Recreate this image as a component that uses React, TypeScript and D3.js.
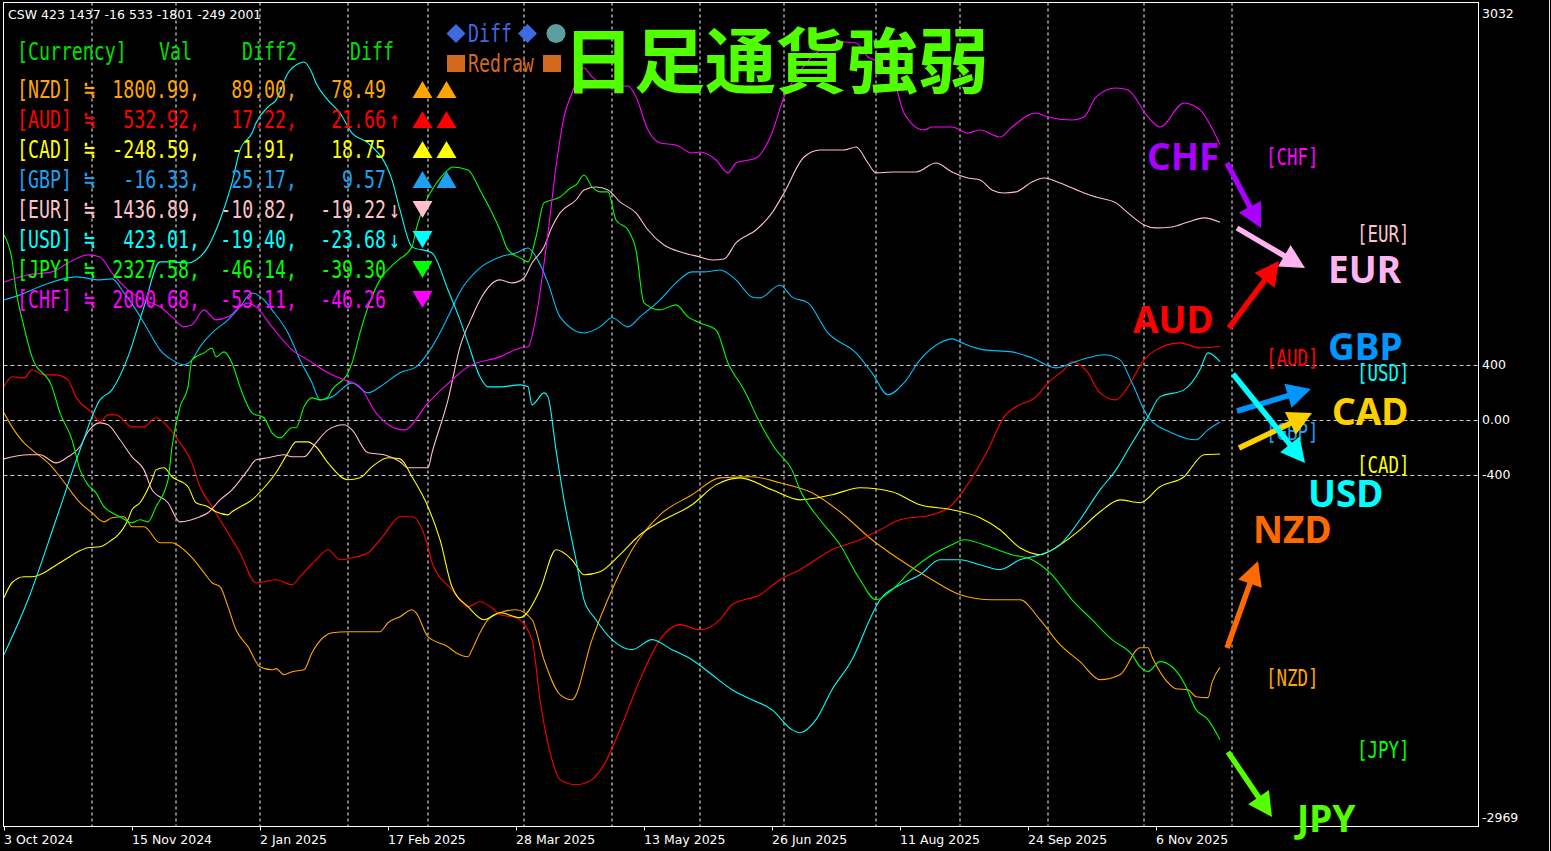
import React from 'react';
import * as d3 from 'd3';

type P = [number, number];

// ---------- DATA ----------
const currencies = ['NZD', 'AUD', 'CAD', 'GBP', 'EUR', 'USD', 'JPY', 'CHF'];
const lineColors = ['#FFA500', '#FF0000', '#FFFF00', '#00BFFF', '#FFC0CB', '#00FFFF', '#00FF00', '#FF00FF'];

// [bar index, strength value]
const nzdSeries: P[] = [[0,51],[2,-51],[5,-167],[7,-218],[12,-342],[14,-414],[17,-531],[19,-603],[22,-676],[25,-742],[27,-712],[30,-705],[32,-778],[35,-778],[39,-894],[42,-894],[44,-923],[47,-1003],[50,-1112],[52,-1185],[54,-1214],[56,-1359],[58,-1527],[61,-1650],[64,-1796],[67,-1818],[68,-1810],[70,-1854],[72,-1832],[75,-1818],[77,-1694],[80,-1578],[82,-1549],[86,-1541],[91,-1541],[94,-1541],[96,-1476],[99,-1432],[102,-1381],[103,-1403],[106,-1578],[107,-1599],[111,-1650],[113,-1694],[116,-1723],[117,-1672],[119,-1549],[121,-1454],[124,-1403],[128,-1381],[132,-1454],[135,-1745],[139,-1999],[142,-2036],[147,-1599],[152,-1236],[157,-945],[164,-691],[172,-545],[179,-422],[187,-414],[194,-458],[202,-531],[209,-669],[217,-872],[224,-1018],[232,-1163],[239,-1272],[247,-1309],[254,-1309],[259,-1454],[264,-1636],[269,-1759],[274,-1890],[279,-1854],[284,-1658],[286,-1658],[287,-1723],[291,-1912],[293,-1956],[296,-1963],[298,-2014],[301,-2021],[302,-1912],[304,-1800.99]];

const audSeries: P[] = [[0,240],[2,313],[5,305],[7,364],[10,327],[13,327],[16,291],[18,167],[22,51],[24,-15],[26,36],[28,36],[32,-51],[35,-51],[38,15],[41,-51],[44,-167],[47,-313],[49,-487],[52,-632],[56,-822],[59,-967],[63,-1185],[68,-1163],[72,-1200],[74,-1141],[78,-1018],[81,-945],[84,-1018],[87,-1003],[91,-967],[95,-836],[99,-705],[102,-705],[106,-923],[107,-1040],[112,-1236],[116,-1359],[119,-1323],[122,-1367],[124,-1418],[128,-1439],[132,-1599],[134,-2036],[137,-2472],[139,-2617],[143,-2654],[147,-2617],[150,-2508],[154,-2254],[159,-1890],[164,-1599],[169,-1490],[174,-1527],[179,-1454],[182,-1345],[189,-1272],[194,-1163],[199,-1090],[207,-945],[214,-872],[219,-800],[224,-727],[232,-691],[237,-618],[240,-509],[246,-218],[250,22],[253,95],[258,167],[261,269],[265,364],[267,422],[271,342],[274,196],[278,145],[281,240],[285,436],[288,509],[294,560],[299,523],[304,532.92]];

const cadSeries: P[] = [[0,-1294],[2,-1185],[5,-1141],[7,-1141],[10,-1112],[12,-1076],[14,-1040],[16,-1003],[18,-967],[21,-931],[24,-923],[27,-872],[28,-851],[31,-727],[32,-654],[34,-603],[37,-436],[38,-364],[40,-349],[42,-414],[46,-487],[48,-603],[51,-632],[53,-669],[56,-691],[57,-669],[60,-618],[62,-582],[65,-494],[68,-385],[71,-240],[73,-160],[76,-160],[78,-196],[81,-313],[86,-436],[89,-422],[92,-342],[96,-276],[99,-284],[102,-414],[106,-632],[109,-872],[112,-1214],[116,-1359],[120,-1454],[124,-1403],[129,-1439],[134,-1236],[138,-945],[142,-1018],[145,-1127],[149,-1105],[154,-981],[159,-836],[164,-742],[172,-618],[178,-473],[184,-422],[192,-509],[199,-582],[207,-545],[214,-494],[222,-523],[229,-618],[237,-654],[244,-712],[249,-800],[254,-931],[259,-981],[264,-909],[269,-800],[274,-669],[279,-582],[284,-603],[289,-487],[295,-414],[300,-254],[304,-248.59]];

const gbpSeries: P[] = [[0,872],[4,909],[10,981],[18,1040],[24,1018],[27,1025],[30,923],[33,800],[36,654],[39,509],[42,436],[45,400],[47,436],[49,531],[52,632],[56,727],[59,822],[62,923],[65,872],[67,800],[71,632],[74,436],[77,269],[79,145],[82,167],[87,269],[91,196],[94,240],[99,342],[103,385],[107,531],[111,749],[114,931],[119,1105],[124,1185],[128,1214],[131,1250],[133,1185],[136,996],[139,749],[145,632],[149,676],[152,742],[156,676],[159,749],[164,872],[168,996],[172,1076],[175,1076],[179,1090],[183,1018],[187,894],[189,887],[194,981],[197,894],[201,851],[206,632],[213,487],[217,342],[221,182],[225,269],[229,436],[234,560],[237,589],[239,567],[242,531],[245,509],[252,494],[257,451],[263,378],[267,414],[271,451],[275,473],[279,436],[282,269],[286,22],[292,-95],[298,-145],[301,-73],[304,-16.33]];

const eurSeries: P[] = [[0,-284],[6,-254],[9,-254],[13,-313],[16,-269],[19,-196],[21,-87],[24,-22],[26,-36],[29,-145],[32,-269],[35,-364],[37,-509],[41,-603],[44,-742],[49,-705],[51,-676],[54,-582],[57,-509],[61,-364],[63,-291],[66,-276],[70,-254],[72,-269],[75,-269],[78,-167],[81,-73],[85,-36],[87,-73],[91,-240],[95,-254],[99,-305],[101,-349],[106,-349],[107,-240],[111,145],[114,531],[117,749],[119,872],[124,1018],[127,996],[130,1032],[132,1141],[135,1258],[137,1403],[139,1505],[143,1599],[145,1672],[148,1694],[151,1672],[154,1585],[158,1505],[161,1381],[165,1272],[170,1214],[174,1185],[177,1163],[180,1170],[183,1287],[188,1381],[192,1505],[195,1650],[200,1912],[204,1963],[210,1963],[213,1985],[216,1868],[218,1796],[222,1803],[228,1803],[233,1868],[237,1803],[241,1759],[244,1745],[247,1672],[250,1650],[253,1658],[257,1730],[260,1759],[264,1723],[270,1650],[273,1621],[278,1578],[281,1505],[285,1418],[288,1396],[292,1403],[296,1439],[300,1469],[304,1436.89]];

const usdSeries: P[] = [[0,-1708],[6,-1309],[13,-727],[19,-218],[24,145],[27,218],[31,458],[35,822],[39,1149],[42,1149],[46,1141],[48,1163],[51,1258],[54,1454],[57,1723],[59,1963],[62,2086],[63,2159],[66,2276],[68,2326],[71,2523],[74,2595],[75,2603],[77,2523],[78,2450],[81,2326],[84,2232],[87,2086],[91,2014],[97,1745],[99,1527],[102,1258],[107,1214],[111,945],[114,727],[116,560],[119,313],[121,240],[124,240],[129,254],[131,240],[132,109],[135,196],[136,167],[138,-218],[140,-582],[143,-1018],[145,-1309],[148,-1454],[152,-1599],[157,-1672],[162,-1599],[167,-1672],[172,-1745],[177,-1854],[182,-1963],[187,-2036],[192,-2108],[197,-2254],[199,-2276],[203,-2181],[207,-1963],[212,-1745],[217,-1418],[219,-1309],[224,-1200],[229,-1127],[234,-1018],[239,-1018],[244,-1054],[249,-1090],[254,-1018],[259,-981],[264,-909],[269,-727],[274,-509],[278,-364],[281,-218],[286,22],[289,167],[295,218],[299,364],[301,487],[304,423.01]];

const jpySeries: P[] = [[0,1345],[2,1163],[3,945],[5,676],[7,458],[12,240],[14,51],[17,-145],[19,-364],[21,-473],[23,-531],[25,-632],[27,-676],[29,-705],[32,-749],[34,-727],[36,-742],[38,-632],[41,-436],[42,-196],[44,95],[46,240],[47,436],[50,487],[52,523],[53,458],[55,494],[57,414],[59,240],[62,51],[65,15],[67,-95],[69,-131],[72,-58],[73,-58],[75,95],[77,160],[79,145],[81,167],[82,218],[86,342],[87,414],[89,632],[91,822],[94,1018],[98,1149],[102,1258],[103,1381],[106,1621],[107,1672],[111,1818],[112,1839],[116,1818],[119,1672],[124,1381],[126,1236],[129,1178],[131,1149],[133,1330],[135,1578],[137,1599],[139,1621],[142,1694],[143,1708],[145,1781],[147,1694],[149,1658],[151,1658],[153,1454],[156,1381],[158,1236],[160,851],[164,800],[168,836],[171,749],[174,705],[178,654],[181,414],[185,218],[189,-22],[193,-218],[197,-364],[199,-509],[204,-727],[209,-909],[214,-1163],[218,-1309],[222,-1236],[227,-1090],[232,-981],[237,-909],[240,-872],[247,-931],[252,-981],[257,-1018],[262,-1127],[267,-1309],[272,-1454],[277,-1599],[282,-1708],[284,-1796],[286,-1832],[289,-1759],[292,-1796],[295,-1912],[298,-2108],[301,-2181],[304,-2327.58]];

const chfSeries: P[] = [[0,1003],[6,1054],[12,1076],[16,1141],[21,1200],[24,1185],[27,1069],[31,945],[35,872],[39,822],[42,749],[45,676],[47,691],[50,800],[53,727],[56,749],[59,822],[61,851],[63,822],[67,676],[72,509],[76,436],[81,342],[85,291],[89,240],[93,51],[100,-73],[106,124],[112,291],[116,385],[124,458],[129,523],[131,531],[133,749],[136,1359],[138,1839],[140,2203],[142,2377],[145,2559],[147,2494],[152,2421],[156,2428],[158,2348],[161,2108],[164,2014],[168,1999],[172,1941],[174,1948],[178,1890],[181,1796],[183,1868],[188,1905],[192,2086],[195,2348],[198,2494],[204,2690],[210,2748],[213,2741],[216,2639],[219,2595],[223,2421],[225,2232],[230,2108],[232,2130],[237,2130],[241,2086],[244,2108],[249,2057],[252,2130],[258,2232],[261,2203],[267,2181],[270,2203],[273,2348],[278,2414],[281,2399],[286,2203],[289,2130],[295,2305],[299,2254],[304,2000.68]];

const seriesList: P[][] = [nzdSeries, audSeries, cadSeries, gbpSeries, eurSeries, usdSeries, jpySeries, chfSeries];

// legend table
const legendVal = ['1800.99', '532.92', '-248.59', '-16.33', '1436.89', '423.01', '2327.58', '2000.68'];
const legendDiff2 = ['89.00', '17.22', '-1.91', '25.17', '-10.82', '-19.40', '-46.14', '-53.11'];
const legendDiff = ['78.49', '21.66', '18.75', '9.57', '-19.22', '-23.68', '-39.30', '-46.26'];
const legendArrow = ['', '↑', '', '', '↓', '↓', '', ''];
const legendTri = [2, 2, 2, 2, -1, -1, -1, -1];
const legendColors = ['#FFA500', '#FF0000', '#FFFF00', '#1EA0F0', '#FFC0CB', '#00FFFF', '#00FF00', '#FF00FF'];
const cswValues = [423, 1437, -16, 533, -1801, -249, 2001];

// axes
const dateLabels = ['3 Oct 2024', '15 Nov 2024', '2 Jan 2025', '17 Feb 2025', '28 Mar 2025', '13 May 2025', '26 Jun 2025', '11 Aug 2025', '24 Sep 2025', '6 Nov 2025'];
const dateIdx = [0, 32, 64, 96, 128, 160, 192, 224, 256, 288];
const monthIdx = [22, 43, 64, 86, 106, 130, 152, 174, 195, 218, 239, 261, 285, 307];
const yTickVals = [3032, 400, 0, -400, -2969];
const yTickText = ['3032', '400', '0.00', '-400', '-2969'];
const yGridVals = [400, 0, -400];

// strength ranking annotations
const bigNames = ['CHF', 'EUR', 'AUD', 'GBP', 'CAD', 'USD', 'NZD', 'JPY'];
const bigColors = ['#AA00FF', '#FFB4F0', '#FF0000', '#0096FF', '#FFD000', '#00FFFF', '#FF6A00', '#55FF00'];
const tagNames = ['[CHF]', '[EUR]', '[AUD]', '[USD]', '[GBP]', '[CAD]', '[NZD]', '[JPY]'];
const tagColors = ['#FF00FF', '#FFC0CB', '#FF0000', '#00FFFF', '#1EA0F0', '#FFFF00', '#FFA500', '#00FF00'];

// ---------- LAYOUT ----------
const W = 1551, H = 851;
const L = 3.5, R = 1478.5, T = 2.5, B = 826.5;
const MONO = "'DejaVu Sans Mono', 'Liberation Mono', monospace";
const SANS = "'DejaVu Sans', 'Liberation Sans', sans-serif";
const bigPos: [number, number][] = [[1147, 170], [1328, 283], [1133, 333], [1328, 360], [1332, 425], [1308, 507], [1253, 543], [1297, 832]];
const arrowPos: [number, number, number, number][] = [
  [1227, 163, 1261, 228], [1237, 228, 1305, 268], [1229, 328, 1279, 261], [1237, 411, 1311, 389],
  [1239, 448, 1312, 413], [1233, 374, 1305, 463], [1227, 648, 1258, 561], [1228, 752, 1272, 817]];
const tagPos: [number, number][] = [[1266, 165], [1357, 242], [1266, 366], [1357, 381], [1266, 440], [1357, 473], [1266, 686], [1357, 758]];

function MText(props: { x: number; y: number; color: string; anchor?: string; size?: number; children: React.ReactNode }) {
  const { x, y, color, anchor = 'start', size = 24, children } = props;
  return (
    <text transform={`translate(${x},${y}) scale(0.76,1)`} textAnchor={anchor} fill={color}
      fontFamily={MONO} fontSize={size} style={{ whiteSpace: 'pre' }}>{children}</text>
  );
}

function Arrow({ a, color }: { a: [number, number, number, number]; color: string }) {
  const [x1, y1, x2, y2] = a;
  const dx = x2 - x1, dy = y2 - y1, len = Math.hypot(dx, dy);
  const ux = dx / len, uy = dy / len, hl = 24, hw = 12.5;
  const bx = x2 - ux * hl, by = y2 - uy * hl;
  const px = -uy, py = ux;
  return (
    <g>
      <line x1={x1} y1={y1} x2={bx + ux * 3} y2={by + uy * 3} stroke={color} strokeWidth={5.5} />
      <polygon points={`${x2},${y2} ${bx + px * hw},${by + py * hw} ${bx - px * hw},${by - py * hw}`} fill={color} />
    </g>
  );
}

export default function App() {
  const x = d3.scaleLinear().domain([0, 100]).range([4, 404]);
  const y = d3.scaleLinear().domain([-2969, 3032]).range([828, 3]);
  const line = d3.line<P>().x(d => x(d[0])).y(d => y(d[1])).curve(d3.curveMonotoneX);

  const rowY = (i: number) => 89.5 + 30 * i;

  return (
    <div>
      <style>{'html,body{margin:0;padding:0;background:#000;overflow:hidden}'}</style>
      <svg width={W} height={H} style={{ display: 'block', background: '#000' }}>
        <defs>
          <clipPath id="plot"><rect x={L} y={T} width={R - L} height={B - T} /></clipPath>
        </defs>
        <rect x={0} y={0} width={W} height={H} fill="#000" />

        {/* grid */}
        {monthIdx.map((m, i) => (
          <line key={'v' + i} x1={x(m)} x2={x(m)} y1={T} y2={B} stroke="#ffffff" strokeWidth={1} strokeDasharray="3,3" />
        ))}
        {yGridVals.map((v, i) => (
          <line key={'h' + i} x1={L} x2={R} y1={Math.round(y(v)) + 0.5} y2={Math.round(y(v)) + 0.5} stroke="#c8c8c8" strokeWidth={1} strokeDasharray="4,3" />
        ))}

        {/* series */}
        <g clipPath="url(#plot)">
          {seriesList.map((s, i) => (
            <path key={currencies[i]} d={line(s) || ''} fill="none" stroke={lineColors[i]} strokeWidth={1.1} />
          ))}
        </g>

        {/* frame */}
        <rect x={L} y={T} width={R - L} height={B - T} fill="none" stroke="#fff" strokeWidth={1} />
        <line x1={1549.5} x2={1549.5} y1={0} y2={H} stroke="#e0e0e0" strokeWidth={1} />

        {/* y axis */}
        {yTickVals.map((v, i) => {
          let yy = y(v);
          if (i === 0) yy = 13;
          if (i === yTickVals.length - 1) yy = 817;
          return (
            <text key={'yt' + i} x={1482} y={yy + 4.5} fill="#fff" fontFamily={SANS} fontSize={12.5}>{yTickText[i]}</text>
          );
        })}

        {/* x axis */}
        {dateIdx.map((d, i) => (
          <g key={'dt' + i}>
            <line x1={x(d) + 0.5} x2={x(d) + 0.5} y1={B} y2={B + 4} stroke="#fff" />
            <text x={x(d)} y={844} fill="#fff" fontFamily={SANS} fontSize={12.5}>{dateLabels[i]}</text>
          </g>
        ))}

        {/* top-left info */}
        <text x={8} y={19} fill="#fff" fontFamily={SANS} fontSize={12.5}>{'CSW ' + cswValues.join(' ')}</text>

        {/* legend table */}
        <MText x={17} y={60} color="#00E000">[Currency]</MText>
        <MText x={159} y={60} color="#00E000">Val</MText>
        <MText x={242} y={60} color="#00E000">Diff2</MText>
        <MText x={350} y={60} color="#00E000">Diff</MText>
        {currencies.map((c, i) => {
          const cy = rowY(i);
          const col = legendColors[i];
          const tri = legendTri[i];
          const tris = [];
          for (let k = 0; k < Math.abs(tri); k++) {
            const cx = 422.5 + k * 24;
            tris.push(tri > 0
              ? <polygon key={k} points={`${cx},${cy - 8.5} ${cx + 10},${cy + 8.5} ${cx - 10},${cy + 8.5}`} fill={col} />
              : <polygon key={k} points={`${cx - 10},${cy - 8.5} ${cx + 10},${cy - 8.5} ${cx},${cy + 8.5}`} fill={col} />);
          }
          return (
            <g key={'lg' + c}>
              <MText x={17} y={cy + 8.5} color={col}>{`[${c}]`}</MText>
              <MText x={84} y={cy + 8.5} color={col}>≒</MText>
              <MText x={200} y={cy + 8.5} color={col} anchor="end">{legendVal[i] + ','}</MText>
              <MText x={297} y={cy + 8.5} color={col} anchor="end">{legendDiff2[i] + ','}</MText>
              <MText x={386} y={cy + 8.5} color={col} anchor="end">{legendDiff[i]}</MText>
              {legendArrow[i] && <MText x={389} y={cy + 8.5} color={col}>{legendArrow[i]}</MText>}
              {tris}
            </g>
          );
        })}

        {/* Diff / Redraw buttons */}
        <polygon points="456,24 465.5,33.5 456,43 446.5,33.5" fill="#4169E1" />
        <MText x={468} y={42} color="#4169E1">Diff</MText>
        <polygon points="527.5,24 537,33.5 527.5,43 518,33.5" fill="#4169E1" />
        <circle cx={556} cy={33.5} r={9.5} fill="#5F9EA0" />
        <rect x={447} y={55} width={18} height={17} fill="#D2691E" />
        <MText x={468} y={72} color="#D2691E">Redraw</MText>
        <rect x={543} y={55} width={18} height={17} fill="#D2691E" />

        {/* title */}
        <text x={563} y={87} fill="#50FF00" fontFamily="'Noto Sans CJK JP', sans-serif" fontWeight={700} fontSize={71}>日足通貨強弱</text>

        {/* strength tags */}
        {tagNames.map((t, i) => (
          <MText key={'tg' + i} x={tagPos[i][0]} y={tagPos[i][1]} color={tagColors[i]} size={23}>{t}</MText>
        ))}

        {/* ranking arrows and labels */}
        {bigNames.map((n, i) => (
          <Arrow key={'ar' + n} a={arrowPos[i]} color={bigColors[i]} />
        ))}
        {bigNames.map((n, i) => (
          <text key={'bn' + n} x={bigPos[i][0]} y={bigPos[i][1]} fill={bigColors[i]} fontFamily="'Noto Sans', 'Open Sans', sans-serif" fontWeight={700} fontSize={37}>{n}</text>
        ))}
      </svg>
    </div>
  );
}
